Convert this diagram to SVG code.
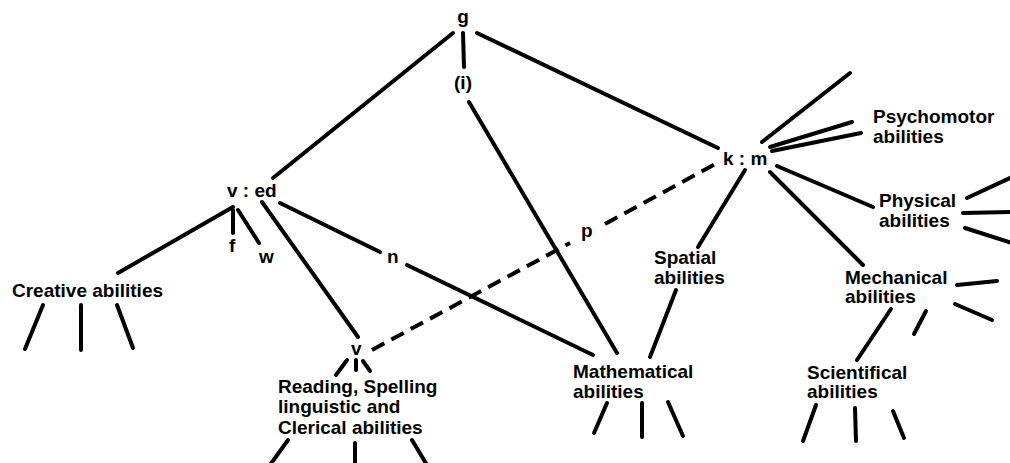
<svg xmlns="http://www.w3.org/2000/svg" width="1010" height="463" viewBox="0 0 1010 463">
<style>
text{font-family:"Liberation Sans",Arial,sans-serif;font-weight:bold;font-size:19px;fill:#000}
.c line{stroke:#000;stroke-width:4;stroke-linecap:round}
.c .d{stroke-dasharray:14 8;stroke-linecap:butt}
</style>
<rect width="1010" height="463" fill="#fff"/>
<g class="c" id="connectors">
<line x1="453" y1="33" x2="273" y2="178"/>
<line x1="463" y1="33" x2="464" y2="67"/>
<line x1="477" y1="33" x2="718" y2="148"/>
<line x1="469" y1="102" x2="617" y2="353"/>
<line x1="233" y1="207" x2="118" y2="273"/>
<line x1="233" y1="210" x2="233" y2="233"/>
<line x1="238" y1="210" x2="259" y2="243"/>
<line x1="262" y1="202" x2="358" y2="337"/>
<line x1="280" y1="203" x2="380" y2="252"/>
<line x1="407" y1="265" x2="593" y2="355"/>
<line class="d" x1="372" y1="350" x2="570" y2="243"/>
<line class="d" x1="605" y1="224" x2="717" y2="163"/>
<line x1="745" y1="170" x2="698" y2="247"/>
<line x1="676" y1="290" x2="650" y2="357"/>
<line x1="770" y1="172" x2="863" y2="265"/>
<line x1="777" y1="166" x2="873" y2="207"/>
<line x1="762" y1="142" x2="850" y2="73"/>
<line x1="770" y1="147" x2="852" y2="122"/>
<line x1="772" y1="151" x2="861" y2="133"/>
<line x1="967" y1="198" x2="1012" y2="177"/>
<line x1="963" y1="213" x2="1012" y2="212"/>
<line x1="965" y1="228" x2="1012" y2="243"/>
<line x1="957" y1="285" x2="997" y2="281"/>
<line x1="955" y1="304" x2="992" y2="320"/>
<line x1="891" y1="309" x2="857" y2="360"/>
<line x1="926" y1="311" x2="914" y2="334"/>
<line x1="816" y1="405" x2="803" y2="441"/>
<line x1="855" y1="408" x2="856" y2="441"/>
<line x1="893" y1="411" x2="904" y2="438"/>
<line x1="607" y1="403" x2="594" y2="433"/>
<line x1="642" y1="403" x2="642" y2="437"/>
<line x1="668" y1="402" x2="683" y2="436"/>
<line x1="43" y1="305" x2="25" y2="349"/>
<line x1="81" y1="305" x2="81" y2="350"/>
<line x1="117" y1="305" x2="133" y2="348"/>
<line x1="347" y1="360" x2="336" y2="375"/>
<line x1="356" y1="360" x2="356" y2="370"/>
<line x1="363" y1="361" x2="370" y2="371"/>
<line x1="288" y1="440" x2="270" y2="465"/>
<line x1="355" y1="443" x2="355" y2="465"/>
<line x1="412" y1="440" x2="427" y2="465"/>
</g>
<g id="node-g"><text x="463" y="23" text-anchor="middle">g</text></g>
<g id="node-i"><text x="463" y="89" text-anchor="middle">(i)</text></g>
<g id="node-ved"><text x="227" y="197">v : ed</text></g>
<g id="node-km"><text x="723" y="165">k : m</text></g>
<g id="node-f"><text x="229" y="252">f</text></g>
<g id="node-w"><text x="259" y="263">w</text></g>
<g id="node-n"><text x="387" y="263">n</text></g>
<g id="node-p"><text x="581" y="237">p</text></g>
<g id="node-v"><text x="351" y="355">v</text></g>
<g id="node-psychomotor"><text x="873" y="123">Psychomotor</text><text x="873" y="143">abilities</text></g>
<g id="node-physical"><text x="879" y="207">Physical</text><text x="879" y="227">abilities</text></g>
<g id="node-creative"><text x="12" y="297">Creative abilities</text></g>
<g id="node-reading"><text x="278" y="393">Reading, Spelling</text><text x="278" y="413">linguistic and</text><text x="278" y="434">Clerical abilities</text></g>
<g id="node-spatial"><text x="654" y="264">Spatial</text><text x="654" y="284">abilities</text></g>
<g id="node-math"><text x="573" y="378">Mathematical</text><text x="573" y="398">abilities</text></g>
<g id="node-mechanical"><text x="845" y="284">Mechanical</text><text x="845" y="303">abilities</text></g>
<g id="node-scientifical"><text x="807" y="379">Scientifical</text><text x="807" y="398">abilities</text></g>
</svg>
